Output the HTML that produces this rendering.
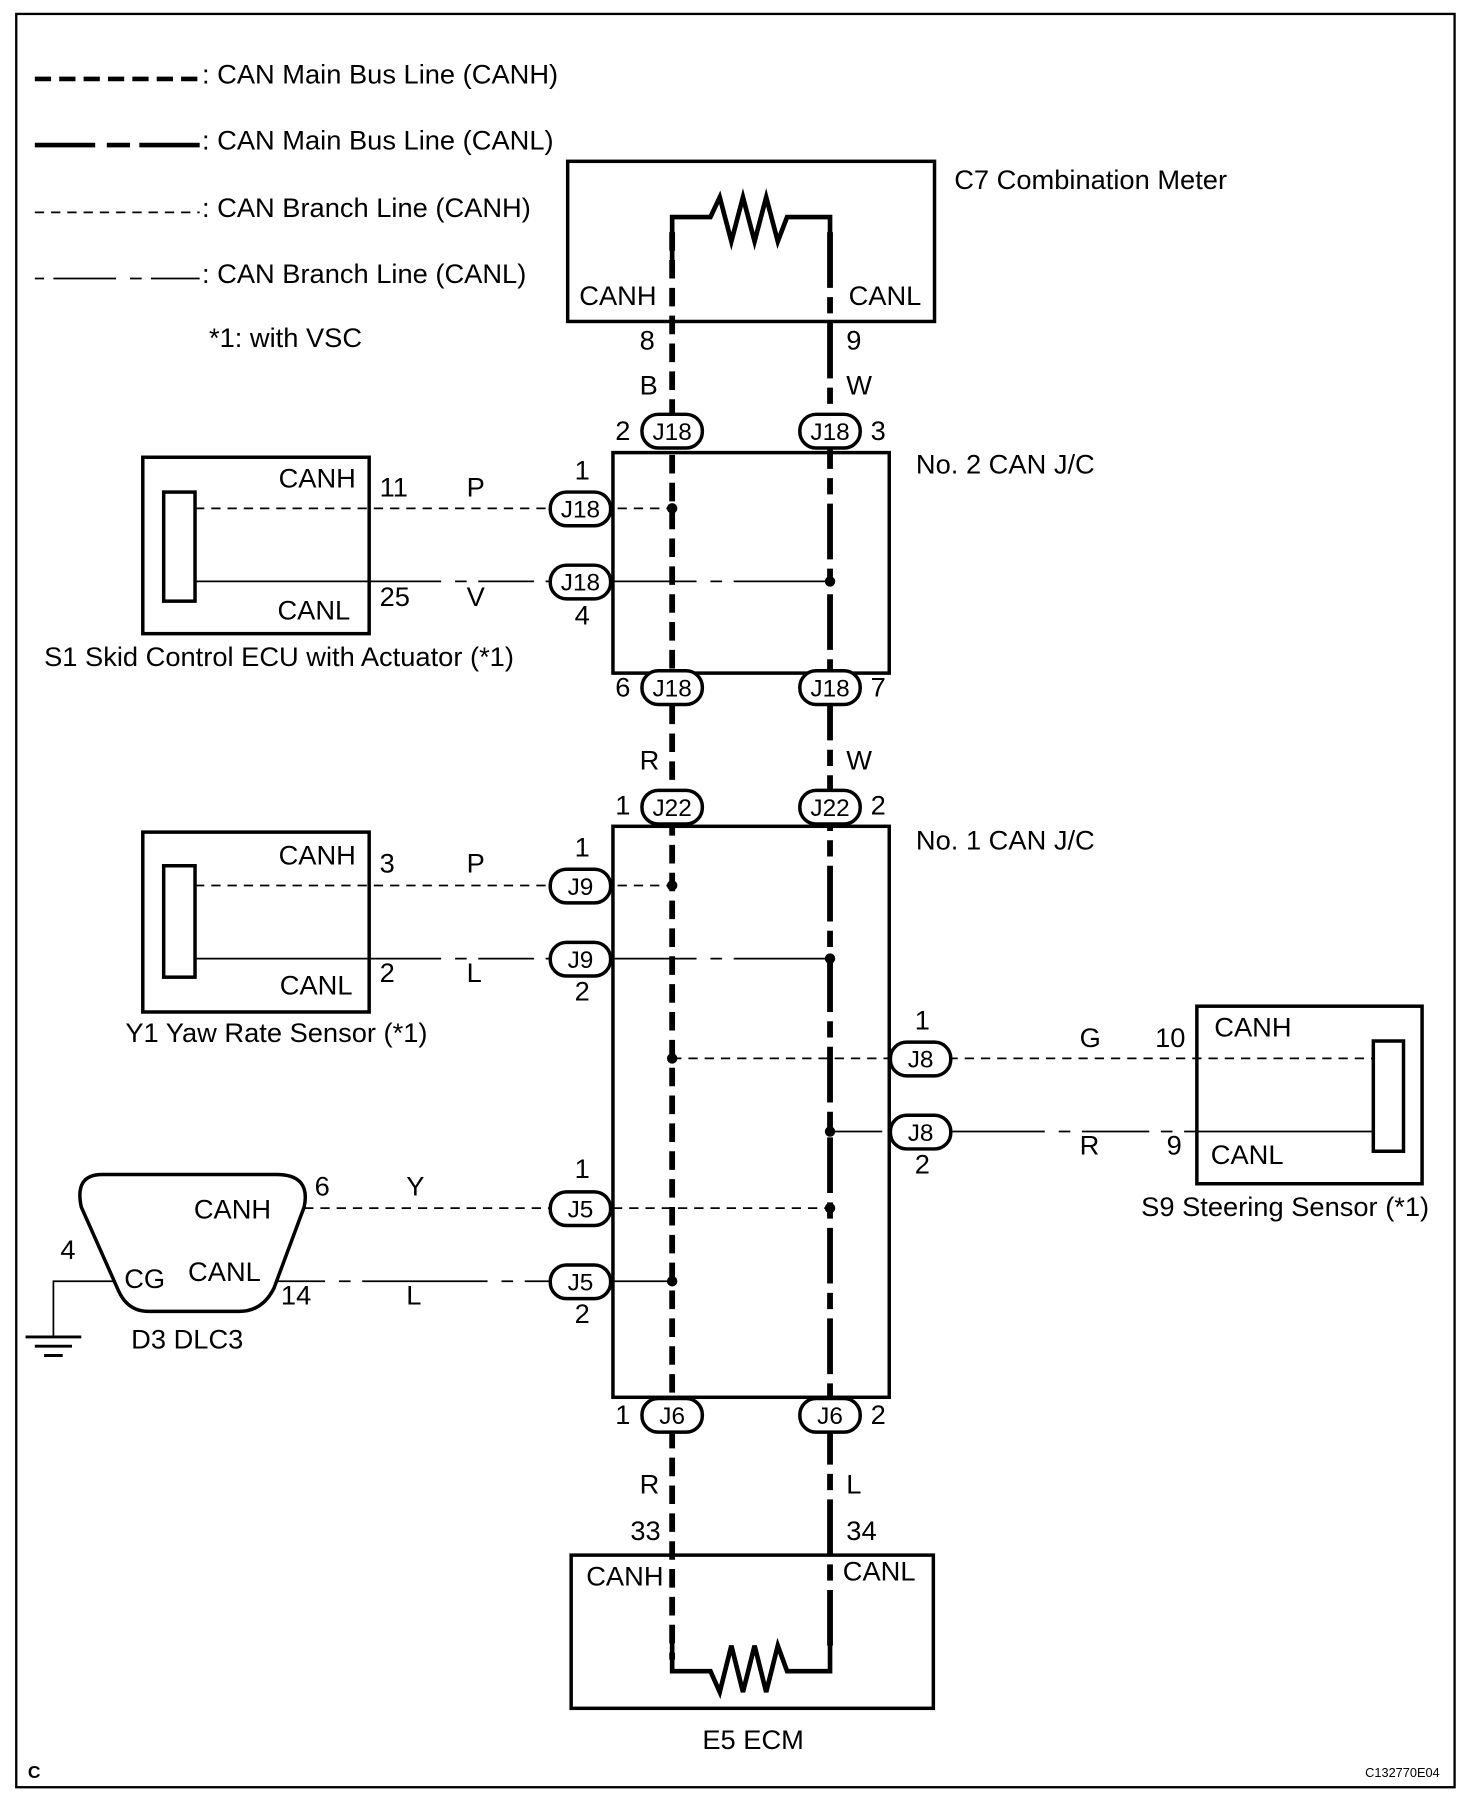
<!DOCTYPE html>
<html><head><meta charset="utf-8"><style>
html,body{margin:0;padding:0;background:#fff}
svg{display:block}
text{font-family:"Liberation Sans",Arial,sans-serif;font-size:23.5px;fill:#000}
.p{font-size:21px}
</style></head><body>
<svg width="1472" height="1800" viewBox="0 0 1268 1551" preserveAspectRatio="none" xmlns="http://www.w3.org/2000/svg">
<rect x="0" y="0" width="1268" height="1551" fill="#fff"/>
<rect x="14" y="12" width="1239" height="1528" fill="none" stroke="#000" stroke-width="2"/>

<!-- legend -->
<g stroke="#000" fill="none">
<line x1="30" y1="68" x2="172" y2="68" stroke-width="4" stroke-dasharray="14,7"/>
<path d="M30 125H82 M92 125H112 M120 125H172" stroke-width="4"/>
<line x1="30" y1="183" x2="172" y2="183" stroke-width="1.5" stroke-dasharray="8,6"/>
<path d="M30 240H38 M46 240H100 M112 240H122 M130 240H172" stroke-width="1.5"/>
</g>
<text x="174" y="72">: CAN Main Bus Line (CANH)</text>
<text x="174" y="129">: CAN Main Bus Line (CANL)</text>
<text x="174" y="187">: CAN Branch Line (CANH)</text>
<text x="174" y="244">: CAN Branch Line (CANL)</text>
<text x="180" y="299">*1: with VSC</text>

<!-- C7 -->
<rect x="489" y="139" width="316" height="138" fill="none" stroke="#000" stroke-width="3"/>
<text x="822" y="163">C7 Combination Meter</text>
<text x="499" y="263">CANH</text>
<text x="731" y="263">CANL</text>
<path d="M579 240V187H612L620 170L630 208L640 170L650 208L660 170L670 208L678 187H715V240" fill="none" stroke="#000" stroke-width="4"/>

<!-- main bus CANH -->
<line x1="579" y1="200" x2="579" y2="1430" stroke="#000" stroke-width="5" stroke-dasharray="16,8"/>
<path d="M579 1410V1440H612L620 1458L630 1418L640 1458L650 1418L660 1458L670 1418L678 1440H715V1395" fill="none" stroke="#000" stroke-width="4"/>
<!-- main bus CANL -->
<line x1="715" y1="200" x2="715" y2="1420" stroke="#000" stroke-width="5" stroke-dasharray="48,8,14,8"/>

<text x="551" y="301">8</text><text x="729" y="301">9</text>
<text x="551" y="340">B</text><text x="729" y="340">W</text>

<!-- J/C boxes -->
<rect x="528" y="390" width="238" height="190" fill="none" stroke="#000" stroke-width="3"/>
<text x="789" y="408">No. 2 CAN J/C</text>
<rect x="528" y="712" width="238" height="492" fill="none" stroke="#000" stroke-width="3"/>
<text x="789" y="732">No. 1 CAN J/C</text>

<!-- S1 -->
<rect x="123" y="394" width="195" height="152" fill="none" stroke="#000" stroke-width="3"/>
<rect x="141" y="424" width="27" height="94" fill="none" stroke="#000" stroke-width="3"/>
<text x="240" y="420">CANH</text><text x="239" y="534">CANL</text>
<text x="327" y="428">11</text><text x="402" y="428">P</text>
<text x="327" y="522">25</text><text x="402" y="522">V</text>
<text x="38" y="574">S1 Skid Control ECU with Actuator (*1)</text>
<line x1="168" y1="438" x2="579" y2="438" stroke="#000" stroke-width="1.5" stroke-dasharray="8,6"/>
<path d="M168 501H380 M392 501H402 M412 501H460 M470 501H480 M490 501H600 M612 501H622 M632 501H715" stroke="#000" stroke-width="1.5"/>
<text x="495" y="413">1</text><text x="495" y="538">4</text>

<!-- Y1 -->
<rect x="123" y="717" width="195" height="155" fill="none" stroke="#000" stroke-width="3"/>
<rect x="141" y="746" width="27" height="96" fill="none" stroke="#000" stroke-width="3"/>
<text x="240" y="745">CANH</text><text x="241" y="857">CANL</text>
<text x="327" y="752">3</text><text x="402" y="752">P</text>
<text x="327" y="846">2</text><text x="402" y="846">L</text>
<text x="108" y="898">Y1 Yaw Rate Sensor (*1)</text>
<line x1="168" y1="763" x2="579" y2="763" stroke="#000" stroke-width="1.5" stroke-dasharray="8,6"/>
<path d="M168 826H380 M392 826H402 M412 826H460 M470 826H480 M490 826H600 M612 826H622 M632 826H715" stroke="#000" stroke-width="1.5"/>
<text x="495" y="738">1</text><text x="495" y="862">2</text>

<!-- S9 -->
<rect x="1031" y="867" width="194" height="153" fill="none" stroke="#000" stroke-width="3"/>
<rect x="1183" y="897" width="26" height="95" fill="none" stroke="#000" stroke-width="3"/>
<text x="1046" y="893">CANH</text><text x="1043" y="1003">CANL</text>
<text x="930" y="902">G</text><text x="995" y="902">10</text>
<text x="930" y="995">R</text><text x="1005" y="995">9</text>
<text x="983" y="1048">S9 Steering Sensor (*1)</text>
<line x1="579" y1="912" x2="1183" y2="912" stroke="#000" stroke-width="1.5" stroke-dasharray="8,6"/>
<path d="M715 975H760 M820 975H900 M912 975H922 M932 975H990 M1000 975H1010 M1020 975H1183" stroke="#000" stroke-width="1.5"/>
<text x="788" y="887">1</text><text x="788" y="1011">2</text>

<!-- DLC3 -->
<path d="M88 1012H238Q268 1012 262 1040L236 1110Q226 1130 206 1130H128Q110 1130 102 1112L70 1040Q64 1012 88 1012Z" fill="none" stroke="#000" stroke-width="3"/>
<text x="167" y="1050">CANH</text><text x="162" y="1104">CANL</text><text x="107" y="1110">CG</text>
<text x="271" y="1030">6</text><text x="350" y="1030">Y</text>
<text x="242" y="1124">14</text><text x="350" y="1124">L</text>
<text x="52" y="1085">4</text>
<text x="113" y="1162">D3 DLC3</text>
<line x1="262" y1="1041" x2="715" y2="1041" stroke="#000" stroke-width="1.5" stroke-dasharray="8,6"/>
<path d="M238 1104H280 M292 1104H302 M312 1104H420 M432 1104H442 M452 1104H579" stroke="#000" stroke-width="1.5"/>
<path d="M100 1104H46V1152" fill="none" stroke="#000" stroke-width="1.5"/>
<path d="M22 1152H70 M30 1160H62 M38 1168H54" stroke="#000" stroke-width="2.5"/>
<text x="495" y="1015">1</text><text x="495" y="1140">2</text>

<!-- dots -->
<g fill="#000">
<circle cx="579" cy="438" r="4.5"/><circle cx="715" cy="501" r="4.5"/>
<circle cx="579" cy="763" r="4.5"/><circle cx="715" cy="826" r="4.5"/>
<circle cx="579" cy="912" r="4.5"/><circle cx="715" cy="975" r="4.5"/>
<circle cx="715" cy="1041" r="4.5"/><circle cx="579" cy="1104" r="4.5"/>
</g>

<!-- pills -->
<g fill="#fff" stroke="#000" stroke-width="3">
<rect x="553" y="357" width="52" height="29" rx="14"/><rect x="689" y="357" width="52" height="29" rx="14"/>
<rect x="474" y="424" width="52" height="29" rx="14"/><rect x="474" y="487" width="52" height="29" rx="14"/>
<rect x="553" y="578" width="52" height="29" rx="14"/><rect x="689" y="578" width="52" height="29" rx="14"/>
<rect x="553" y="681" width="52" height="29" rx="14"/><rect x="689" y="681" width="52" height="29" rx="14"/>
<rect x="474" y="749" width="52" height="29" rx="14"/><rect x="474" y="812" width="52" height="29" rx="14"/>
<rect x="767" y="898" width="52" height="29" rx="14"/><rect x="767" y="961" width="52" height="29" rx="14"/>
<rect x="474" y="1027" width="52" height="29" rx="14"/><rect x="474" y="1090" width="52" height="29" rx="14"/>
<rect x="553" y="1205" width="52" height="29" rx="14"/><rect x="689" y="1205" width="52" height="29" rx="14"/>
</g>
<g text-anchor="middle" class="p">
<text class="p" x="579" y="379">J18</text><text class="p" x="715" y="379">J18</text>
<text class="p" x="500" y="446">J18</text><text class="p" x="500" y="509">J18</text>
<text class="p" x="579" y="600">J18</text><text class="p" x="715" y="600">J18</text>
<text class="p" x="579" y="703">J22</text><text class="p" x="715" y="703">J22</text>
<text class="p" x="500" y="771">J9</text><text class="p" x="500" y="834">J9</text>
<text class="p" x="793" y="920">J8</text><text class="p" x="793" y="983">J8</text>
<text class="p" x="500" y="1049">J5</text><text class="p" x="500" y="1112">J5</text>
<text class="p" x="579" y="1227">J6</text><text class="p" x="715" y="1227">J6</text>
</g>
<text x="530" y="379">2</text><text x="750" y="379">3</text>
<text x="530" y="600">6</text><text x="750" y="600">7</text>
<text x="551" y="663">R</text><text x="729" y="663">W</text>
<text x="530" y="702">1</text><text x="750" y="702">2</text>
<text x="530" y="1227">1</text><text x="750" y="1227">2</text>
<text x="551" y="1287">R</text><text x="729" y="1287">L</text>
<text x="543" y="1327">33</text><text x="729" y="1327">34</text>

<!-- E5 -->
<rect x="492" y="1340" width="312" height="132" fill="none" stroke="#000" stroke-width="3"/>
<text x="505" y="1366">CANH</text><text x="726" y="1362">CANL</text>
<text x="605" y="1507">E5 ECM</text>

<text x="24" y="1532" style="font-size:15px;font-weight:bold">C</text>
<text x="1176" y="1531" style="font-size:11px">C132770E04</text>
</svg>
</body></html>
